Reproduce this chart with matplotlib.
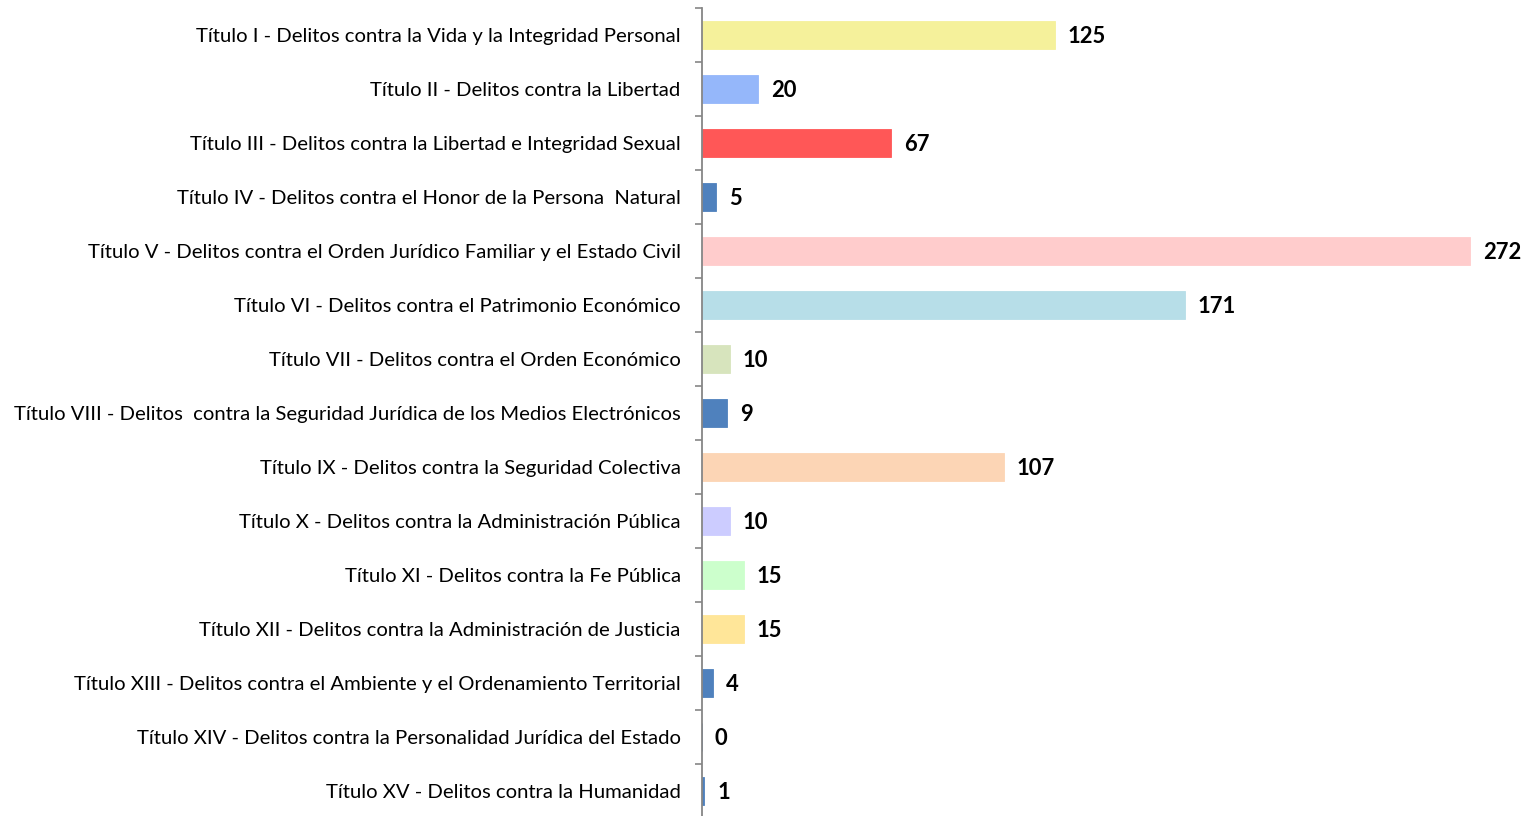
import matplotlib
matplotlib.use("Agg")
import matplotlib.pyplot as plt

categorias = [
    "Título I - Delitos contra la Vida y la Integridad Personal",
    "Título II - Delitos contra la Libertad",
    "Título III - Delitos contra la Libertad e Integridad Sexual",
    "Título IV - Delitos contra el Honor de la Persona  Natural",
    "Título V - Delitos contra el Orden Jurídico Familiar y el Estado Civil",
    "Título VI - Delitos contra el Patrimonio Económico",
    "Título VII - Delitos contra el Orden Económico",
    "Título VIII - Delitos  contra la Seguridad Jurídica de los Medios Electrónicos",
    "Título IX - Delitos contra la Seguridad Colectiva",
    "Título X - Delitos contra la Administración Pública",
    "Título XI - Delitos contra la Fe Pública",
    "Título XII - Delitos contra la Administración de Justicia",
    "Título XIII - Delitos contra el Ambiente y el Ordenamiento Territorial",
    "Título XIV - Delitos contra la Personalidad Jurídica del Estado",
    "Título XV - Delitos contra la Humanidad",
]
valores = [125, 20, 67, 5, 272, 171, 10, 9, 107, 10, 15, 15, 4, 0, 1]
colores = ["#F5F19B", "#95B7FA", "#FF5757", "#4F81BD", "#FFCCCC", "#B7DEE8",
           "#D7E4BD", "#4F81BD", "#FCD5B5", "#CCCCFF", "#CCFFCC", "#FFE699",
           "#4F81BD", "#4F81BD", "#4F81BD"]

plt.rcParams["font.family"] = ["Lato", "DejaVu Sans"]

W, H = 1525, 816
fig = plt.figure(figsize=(W / 100, H / 100), dpi=100)
x0, xmax = 701.5, 290
escala = (1470 - 701.5) / 272
ax = fig.add_axes([x0 / W, (H - 818) / H, xmax * escala / W, 810 / H])

pos = list(range(len(categorias)))
ax.barh(pos, valores, height=0.52, color=colores, edgecolor=colores, linewidth=0.6)
for p, v in zip(pos, valores):
    ax.text(v + 13 / escala, p + 0.02, str(v), va="center", ha="left",
            fontsize=15.8, fontweight="bold", color="black")

ax.set_xlim(0, xmax)
ax.set_ylim(len(categorias) - 0.5, -0.5)
ax.set_yticks(pos)
ax.set_yticklabels(categorias, fontsize=14.62)
ax.set_yticks([p - 0.5 for p in pos] + [len(pos) - 0.5], minor=True)
ax.tick_params(axis="y", which="major", length=0, pad=15)
ax.tick_params(axis="y", which="minor", length=5, width=1.2, color="#868686")
ax.set_xticks([])
for s in ["top", "right", "bottom"]:
    ax.spines[s].set_visible(False)
ax.spines["left"].set_color("#868686")
ax.spines["left"].set_linewidth(1.3)

fig.savefig("out.png", dpi=100)
